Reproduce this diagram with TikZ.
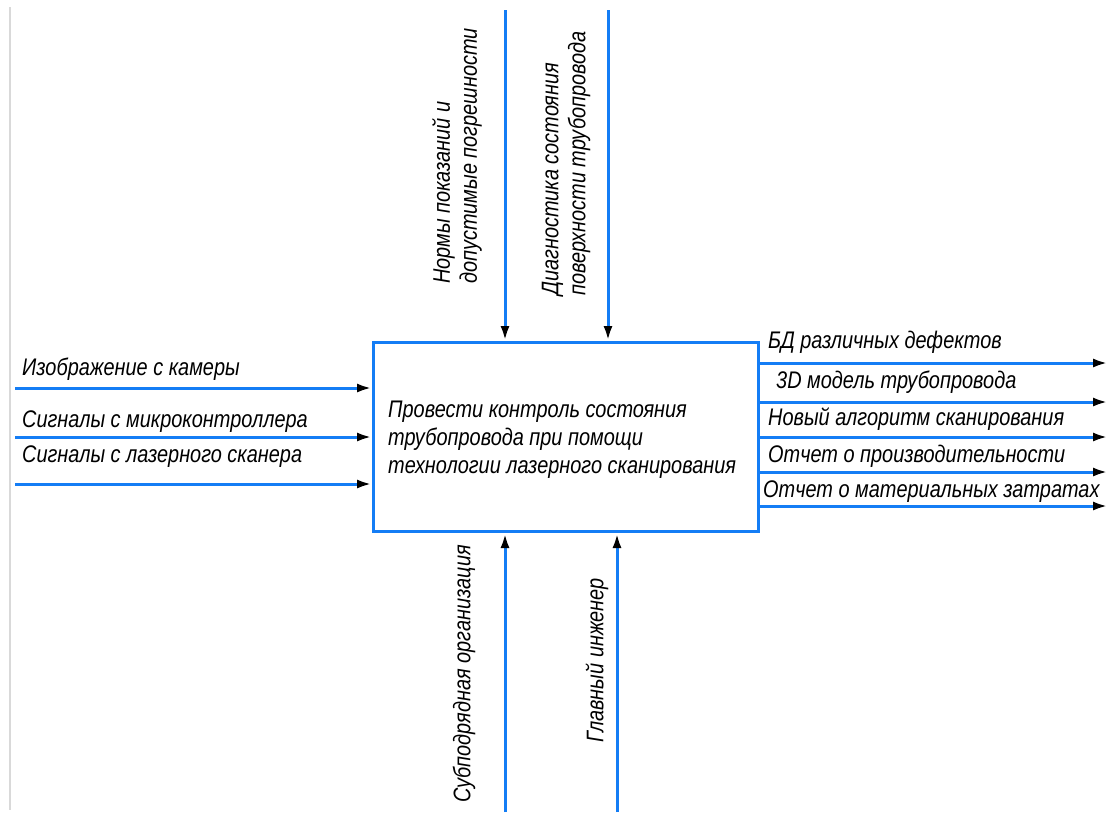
\documentclass[tikz,border=0pt]{standalone}
\usepackage{fontspec}
\setmainfont{Liberation Sans}[FakeStretch=0.83]
\usetikzlibrary{arrows.meta}
\definecolor{lineblue}{RGB}{20,125,245}
\begin{document}
\begin{tikzpicture}[x=1pt,y=-1pt,
  flow/.style={draw=lineblue, line width=3pt, -{Latex[black,length=15pt,width=9pt]}},
  lbl/.style={font=\fontsize{24}{27}\selectfont\itshape, inner sep=0pt, align=left},
  procbox/.style={draw=lineblue, line width=3pt, inner sep=0pt}]
\useasboundingbox (0,0) rectangle (1110,820);
\draw[black!15, line width=1.2pt] (10,7) -- (10,810);
% process box
\node[procbox, minimum width=385pt, minimum height=189pt, anchor=north west] (box) at (372,341) {};
\node[lbl, font=\fontsize{24}{28}\selectfont\itshape, anchor=base west] (boxtext) at (388,473) {Провести контроль состояния\\трубопровода при помощи\\технологии лазерного сканирования};
% inputs
\coordinate (in1) at (15,388);
\coordinate (in2) at (15,437);
\coordinate (in3) at (15,484);
\draw[flow] (in1) -- (in1 -| box.west);
\draw[flow] (in2) -- (in2 -| box.west);
\draw[flow] (in3) -- (in3 -| box.west);
\node[lbl, anchor=base west] (lin1) at (22,375) {Изображение с камеры};
\node[lbl, anchor=base west] (lin2) at (22,427) {Сигналы с микроконтроллера};
\node[lbl, anchor=base west] (lin3) at (22,462) {Сигналы с лазерного сканера};
% controls
\coordinate (ct1) at (505,10);
\coordinate (ct2) at (608,10);
\draw[flow] (ct1) -- (ct1 |- box.north);
\draw[flow] (ct2) -- (ct2 |- box.north);
\node[lbl, rotate=90, anchor=west] (lct1) at (457,284) {Нормы показаний и\\допустимые погрешности};
\node[lbl, rotate=90, anchor=west] (lct2) at (566,296) {Диагностика состояния\\поверхности трубопровода};
% mechanisms
\coordinate (m1) at (505,812);
\coordinate (m2) at (617,812);
\draw[flow] (m1) -- (m1 |- box.south);
\draw[flow] (m2) -- (m2 |- box.south);
\node[lbl, rotate=90, anchor=west] (lm1) at (464,803) {Субподрядная организация};
\node[lbl, rotate=90, anchor=west] (lm2) at (597,743) {Главный инженер};
% outputs
\coordinate (o1) at (1108,363);
\coordinate (o2) at (1108,402);
\coordinate (o3) at (1108,437);
\coordinate (o4) at (1108,472);
\coordinate (o5) at (1108,506);
\draw[flow] (box.east |- o1) -- (o1);
\draw[flow] (box.east |- o2) -- (o2);
\draw[flow] (box.east |- o3) -- (o3);
\draw[flow] (box.east |- o4) -- (o4);
\draw[flow] (box.east |- o5) -- (o5);
\node[lbl, anchor=base west] (lo1) at (768,348) {БД различных дефектов};
\node[lbl, anchor=base west] (lo2) at (776,388) {3D модель трубопровода};
\node[lbl, anchor=base west] (lo3) at (768,425) {Новый алгоритм сканирования};
\node[lbl, anchor=base west] (lo4) at (768,462) {Отчет о производительности};
\node[lbl, anchor=base west] (lo5) at (763,497) {Отчет о материальных затратах};
\end{tikzpicture}
\end{document}
